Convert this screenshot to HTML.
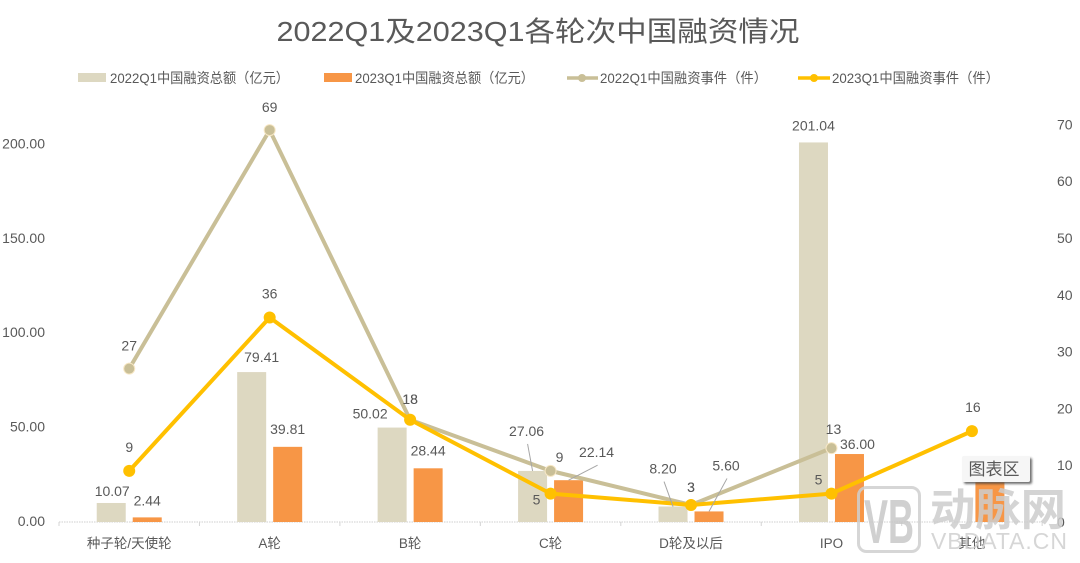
<!DOCTYPE html>
<html lang="zh">
<head>
<meta charset="utf-8">
<title>2022Q1及2023Q1各轮次中国融资情况</title>
<style>
html,body{margin:0;padding:0;background:#fff;width:1080px;height:563px;overflow:hidden}
svg{display:block}
text{font-family:"Liberation Sans","Noto Sans CJK SC",sans-serif;fill:#595959}
</style>
</head>
<body>
<svg id="chart" width="1080" height="563" viewBox="0 0 1080 563" xmlns="http://www.w3.org/2000/svg">
  <defs>
    <filter id="tip-shadow" x="-20%" y="-20%" width="150%" height="160%">
      <feDropShadow dx="2" dy="2" stdDeviation="1" flood-color="#333" flood-opacity="0.7"/>
    </filter>
  </defs>
  <rect width="1080" height="563" fill="#fff"/>
  <text x="538" y="41" font-size="28" text-anchor="middle" textLength="523" lengthAdjust="spacingAndGlyphs">2022Q1及2023Q1各轮次中国融资情况</text>

  <g>
    <g>
      <rect x="78" y="73" width="28" height="9" fill="#DDD8C1"/>
      <text x="110" y="83" font-size="14" textLength="179" lengthAdjust="spacingAndGlyphs">2022Q1中国融资总额（亿元）</text>
    </g>
    <g>
      <rect x="324" y="73" width="28" height="9" fill="#F79646"/>
      <text x="355" y="83" font-size="14" textLength="179" lengthAdjust="spacingAndGlyphs">2023Q1中国融资总额（亿元）</text>
    </g>
    <g>
      <line x1="567" y1="78" x2="598" y2="78" stroke="#C9BF97" stroke-width="3.5"/>
      <circle cx="582" cy="78" r="4" fill="#C9BF97"/>
      <text x="600" y="83" font-size="14" textLength="167" lengthAdjust="spacingAndGlyphs">2022Q1中国融资事件（件）</text>
    </g>
    <g>
      <line x1="798" y1="78" x2="830" y2="78" stroke="#FFC000" stroke-width="3.5"/>
      <circle cx="814" cy="78" r="4" fill="#FFC000"/>
      <text x="832" y="83" font-size="14" textLength="167" lengthAdjust="spacingAndGlyphs">2023Q1中国融资事件（件）</text>
    </g>
  </g>

  <g id="axes"></g>
  <g id="bars"></g>
  <g id="lines"></g>
  <g id="labels"></g>

  <g>
    <rect x="962" y="456" width="68" height="26" rx="2" fill="#f6f6f6" filter="url(#tip-shadow)"/>
    <text x="994" y="475" font-size="17" text-anchor="middle" fill="#666">图表区</text>
  </g>

  <g opacity="0.85">
    <rect x="858.5" y="487.5" width="61" height="64" rx="8" fill="none" stroke="#cfcfcf" stroke-width="3"/>
    <text x="889" y="543" font-size="62" font-weight="700" text-anchor="middle" style="fill:#c8c8c8" textLength="50" lengthAdjust="spacingAndGlyphs">VB</text>
    <text x="930" y="525" font-size="44" font-weight="700" style="fill:#cdcdcd" textLength="136" lengthAdjust="spacingAndGlyphs">动脉网</text>
    <text x="931" y="549" font-size="23" style="fill:#d0d0d0" textLength="136" lengthAdjust="spacing">VBDATA.CN</text>
  </g>
</svg>

<script>
// ---- chart data ----
const categories = ['种子轮/天使轮', 'A轮', 'B轮', 'C轮', 'D轮及以后', 'IPO', '其他'];
const amount2022 = [10.07, 79.41, 50.02, 27.06, 8.20, 201.04, null];
const amount2023 = [2.44, 39.81, 28.44, 22.14, 5.60, 36.00, 21];
const events2022 = [27, 69, 18, 9, 3, 13, null];
const events2023 = [9, 36, 18, 5, 3, 5, 16];
const leftTicks = [0, 50, 100, 150, 200];
const rightTicks = [0, 10, 20, 30, 40, 50, 60, 70];

// ---- label placement nudges, relative to each mark (layout only, not data) ----
const amount2022Nudge = [[1,-12],[10,-15],[-22,-14],[-6,-40],[-10,-38],[0,-17],null];
const amount2023Nudge = [[0,-17],[0,-18],[0,-18],[28,-28],[17,-46],[8,-10],null];
const events2022Nudge = [[0,-23],[0,-23],[0,-21],[9,-14],[0,-18],[2,-19],null];
const events2023Nudge = [[0,-24],[0,-24],[0,-21],[-14,6],[0,-18],[-13,-14],[1,-24]];
const amount2022Leader = [false,false,false,true,true,false,false];
const amount2023Leader = [false,false,false,true,true,false,false];

// ---- scales ----
const plotLeft = 59, catStep = 140.45, baseY = 522;
const leftPxPerUnit = 1.888, rightPxPerUnit = 5.68;
const xCenter = i => plotLeft + catStep * (i + 0.5);
const yLeft = v => baseY - v * leftPxPerUnit;
const yRight = v => baseY - v * rightPxPerUnit;
const barW = 29, barGap = 3.5;

const NS = 'http://www.w3.org/2000/svg';
function make(parent, tag, attrs, txt) {
  const node = document.createElementNS(NS, tag);
  for (const k in attrs) node.setAttribute(k, attrs[k]);
  if (txt !== undefined) node.textContent = txt;
  parent.appendChild(node);
  return node;
}
const axes = document.getElementById('axes');
const bars = document.getElementById('bars');
const lines = document.getElementById('lines');
const labels = document.getElementById('labels');

// ---- axes ----
let el = make(axes, 'line', {x1: plotLeft, y1: baseY, x2: plotLeft + catStep * categories.length, y2: baseY, stroke: '#cfcfcf', 'stroke-width': 1, 'stroke-dasharray': '1.5 1'});



for (let i = 0; i <= categories.length; i++) {
  const t = make(axes, 'line', {x1: plotLeft + catStep * i, y1: baseY, x2: plotLeft + catStep * i, y2: baseY + 4, stroke: '#d4d4d4', 'stroke-width': 1});
  
  
}
categories.forEach((c, i) => {
  const t = make(axes, 'text', {x: xCenter(i), y: 548, 'font-size': 13.5, 'text-anchor': 'middle'}, c);
  
  
});
leftTicks.forEach(v => {
  const t = make(axes, 'text', {x: 45, y: yLeft(v) + 4, 'font-size': 14, 'text-anchor': 'end'}, v.toFixed(2));
  
  
});
rightTicks.forEach(v => {
  const t = make(axes, 'text', {x: 1057, y: yRight(v) + 5, 'font-size': 14}, String(v));
  
  
});

// ---- bars ----
function drawBars(values, side, color, nudges, leaders, name) {
  values.forEach((v, i) => {
    if (v === null) return;
    const x = side < 0 ? xCenter(i) - barGap - barW : xCenter(i) + barGap;
    const top = yLeft(v);
    const r = make(bars, 'rect', {x: x, y: top, width: barW, height: baseY - top, fill: color});
    
    
    const n = nudges[i];
    if (!n) return;
    const lx = x + barW / 2 + n[0], ly = top + n[1];
    if (leaders[i]) {
      const l = make(labels, 'line', {x1: lx + 1, y1: ly + 13, x2: x + barW / 2, y2: top, stroke: '#a6a6a6', 'stroke-width': 1});
      
      
    }
    const t = make(labels, 'text', {x: lx, y: ly + 5, 'font-size': 14, 'text-anchor': 'middle'}, v.toFixed(2));
    
    
  });
}
drawBars(amount2022, -1, '#DDD8C1', amount2022Nudge, amount2022Leader, 'amount-2022');
drawBars(amount2023, 1, '#F79646', amount2023Nudge, amount2023Leader, 'amount-2023');

// ---- lines ----
function drawLine(values, color, ring, nudges, name) {
  const pts = [];
  values.forEach((v, i) => { if (v !== null) pts.push(xCenter(i) + ',' + yRight(v)); });
  const p = make(lines, 'polyline', {points: pts.join(' '), fill: 'none', stroke: color, 'stroke-width': 4, 'stroke-linejoin': 'round'});
  
  
  values.forEach((v, i) => {
    if (v === null) return;
    const c = make(lines, 'circle', {cx: xCenter(i), cy: yRight(v), r: ring ? 5.5 : 6, fill: color, stroke: ring || 'none', 'stroke-width': ring ? 1 : 0});
    
    
    const n = nudges[i];
    const t = make(labels, 'text', {x: xCenter(i) + n[0], y: yRight(v) + n[1] + 5, 'font-size': 14, 'text-anchor': 'middle'}, String(v));
    
    
  });
}
drawLine(events2022, '#C9BF97', '#F7E7C4', events2022Nudge, 'events-2022');
drawLine(events2023, '#FFC000', null, events2023Nudge, 'events-2023');
</script>
</body>
</html>
